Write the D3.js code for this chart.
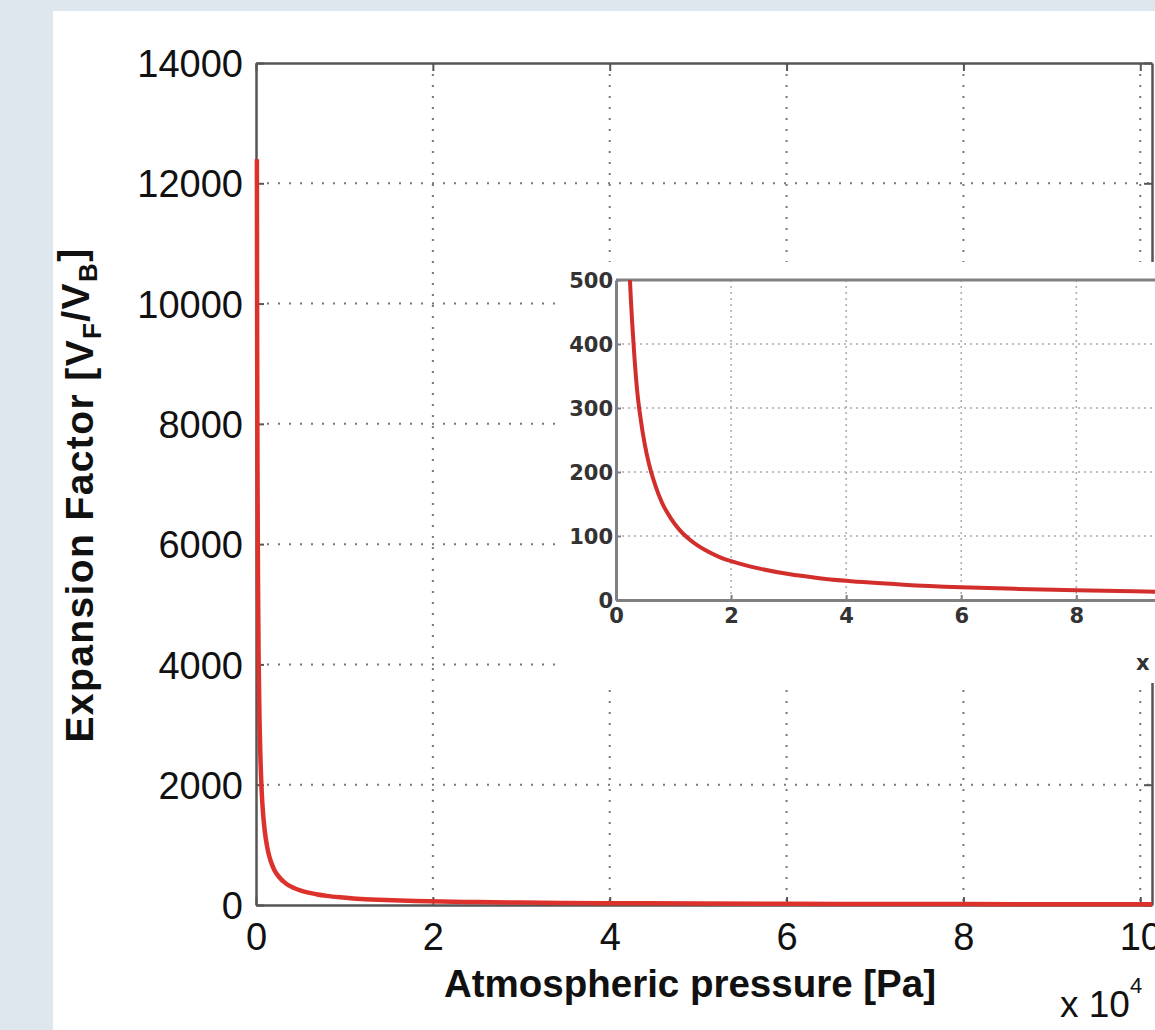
<!DOCTYPE html>
<html>
<head>
<meta charset="utf-8">
<script src="https://cdn.jsdelivr.net/npm/d3@7"></script>
<style>
  html, body { margin: 0; padding: 0; background: #dee6ee; overflow: hidden; }
  svg { display: block; }
</style>
</head>
<body>
<div id="chart"></div>
<script>
// Data (pressure in Pa, expansion factor V_F/V_B)
const pressure = [100, 130, 170, 220, 300, 400, 500, 650, 800, 1000, 1250, 1500, 1800, 2100,
    2400, 2800, 3200, 3700, 4300, 5000, 5800, 6800, 8000, 9500, 11000, 13000, 15500, 18000,
    21000, 25000, 30000, 35000, 40000, 50000, 60000, 70000, 80000, 90000, 101325];
const factor = [12400, 9400, 7200, 5500, 4050, 3050, 2450, 1870, 1520, 1220, 975, 810, 675, 575,
    505, 435, 380, 325, 282, 243, 210, 180, 152, 128, 110, 93, 78, 67,
    58, 49, 40.5, 34.5, 30, 24, 20, 17.3, 15.2, 13.5, 12];

const xTicks = [0, 20000, 40000, 60000, 80000, 100000];
const yTicksMain = [0, 2000, 4000, 6000, 8000, 10000, 12000, 14000];
const yTicksInset = [0, 100, 200, 300, 400, 500];

const xTitle = 'Atmospheric pressure [Pa]';
const pMax = 101325;

const W = 1155, H = 1030;
const curveColor = '#dc322b';

const svg = d3.select('#chart').append('svg')
    .attr('width', W)
    .attr('height', H);

// page backdrop + white panel
svg.append('rect').attr('width', W).attr('height', H).attr('fill', '#dee6ee');
svg.append('rect').attr('x', 53).attr('y', 11).attr('width', W - 53).attr('height', H - 11).attr('fill', '#fff');

const points = pressure.map((p, i) => ({ p, v: factor[i] }));

// ---------- main plot ----------
const M = { left: 256, right: 1152, top: 63, bottom: 905 };
const x = d3.scaleLinear().domain([0, pMax]).range([M.left, M.right]);
const y = d3.scaleLinear().domain([0, 14000]).range([M.bottom, M.top]);

const main = svg.append('g').attr('class', 'main');

// dotted grid
main.selectAll('.vgrid').data(xTicks.filter(d => d > 0)).enter().append('line')
    .attr('x1', d => x(d)).attr('x2', d => x(d))
    .attr('y1', M.top).attr('y2', M.bottom)
    .attr('stroke', '#777').attr('stroke-width', 2).attr('stroke-dasharray', '2,9');
main.selectAll('.hgrid').data(yTicksMain.filter(d => d > 0 && d < 14000)).enter().append('line')
    .attr('x1', M.left).attr('x2', M.right)
    .attr('y1', d => y(d)).attr('y2', d => y(d))
    .attr('stroke', '#777').attr('stroke-width', 2).attr('stroke-dasharray', '2,9');

// axes (MATLAB style, ticks pointing inward)
const mainX = main.append('g').attr('transform', `translate(0,${M.bottom})`)
    .call(d3.axisBottom(x).tickValues(xTicks).tickFormat(d => d / 1e4).tickSizeInner(-8).tickSizeOuter(0).tickPadding(18));
const mainY = main.append('g').attr('transform', `translate(${M.left},0)`)
    .call(d3.axisLeft(y).tickValues(yTicksMain).tickFormat(d3.format('d')).tickSizeInner(-8).tickSizeOuter(0).tickPadding(13));
[mainX, mainY].forEach(a => {
    a.select('.domain').attr('stroke', '#555').attr('stroke-width', 2.5);
    a.selectAll('.tick line').attr('stroke', '#555').attr('stroke-width', 2);
    a.selectAll('text').attr('fill', '#111').style('font-family', '"Liberation Sans", Arial, sans-serif').style('font-size', '38px');
});
mainY.selectAll('text').attr('dy', '0.36em');
// top and right box edges with mirrored ticks
main.append('g').attr('transform', `translate(0,${M.top})`)
    .call(d3.axisTop(x).tickValues(xTicks).tickFormat('').tickSizeInner(-8).tickSizeOuter(0))
    .call(a => { a.select('.domain').attr('stroke', '#555').attr('stroke-width', 2.5); a.selectAll('.tick line').attr('stroke', '#555').attr('stroke-width', 2); });
main.append('g').attr('transform', `translate(${M.right},0)`)
    .call(d3.axisRight(y).tickValues(yTicksMain).tickFormat('').tickSizeInner(-8).tickSizeOuter(0))
    .call(a => { a.select('.domain').attr('stroke', '#555').attr('stroke-width', 2.5); a.selectAll('.tick line').attr('stroke', '#555').attr('stroke-width', 2); });

const line = d3.line().x(d => x(d.p)).y(d => y(d.v)).curve(d3.curveMonotoneX);
main.append('path').datum(points)
    .attr('d', line)
    .attr('fill', 'none')
    .attr('stroke', curveColor)
    .attr('stroke-width', 4.5)
    .attr('stroke-linejoin', 'round');

// axis titles
main.append('text')
    .attr('x', 690).attr('y', 997)
    .attr('text-anchor', 'middle')
    .style('font-family', '"Liberation Sans", Arial, sans-serif')
    .style('font-size', '38.5px').style('font-weight', 'bold')
    .attr('fill', '#111')
    .text(xTitle);

const yt = main.append('text')
    .attr('transform', 'translate(93,495) rotate(-90)')
    .attr('text-anchor', 'middle')
    .style('font-family', '"Liberation Sans", Arial, sans-serif')
    .style('font-size', '39px').style('font-weight', 'bold')
    .style('letter-spacing', '1.4px')
    .attr('fill', '#111');
yt.append('tspan').text('Expansion Factor [V');
yt.append('tspan').attr('dy', '0.3em').style('font-size', '26px').text('F');
yt.append('tspan').attr('dy', '-0.3em').text('/V');
yt.append('tspan').attr('dy', '0.3em').style('font-size', '26px').text('B');
yt.append('tspan').attr('dy', '-0.3em').text(']');

const mult = main.append('text')
    .attr('x', 1060).attr('y', 1017)
    .style('font-family', '"Liberation Sans", Arial, sans-serif')
    .style('font-size', '37px')
    .attr('fill', '#111');
mult.append('tspan').text('x 10');
mult.append('tspan').attr('dy', -24).style('font-size', '22px').text('4');

// ---------- inset ----------
const I = { left: 616, right: 1199, top: 280, bottom: 600 };
const xi = d3.scaleLinear().domain([0, pMax]).range([I.left, I.right]);
const yi = d3.scaleLinear().domain([0, 500]).range([I.bottom, I.top]);

const inset = svg.append('g').attr('class', 'inset');
inset.append('rect')
    .attr('x', 562).attr('y', 262).attr('width', 700).attr('height', 421)
    .attr('fill', '#fff');

inset.selectAll('.vgrid').data(xTicks.filter(d => d > 0)).enter().append('line')
    .attr('x1', d => xi(d)).attr('x2', d => xi(d))
    .attr('y1', I.top).attr('y2', I.bottom)
    .attr('stroke', '#aaa').attr('stroke-width', 1.5).attr('stroke-dasharray', '2,4');
inset.selectAll('.hgrid').data(yTicksInset.filter(d => d > 0 && d < 500)).enter().append('line')
    .attr('x1', I.left).attr('x2', I.right)
    .attr('y1', d => yi(d)).attr('y2', d => yi(d))
    .attr('stroke', '#aaa').attr('stroke-width', 1.5).attr('stroke-dasharray', '2,4');

const insX = inset.append('g').attr('transform', `translate(0,${I.bottom})`)
    .call(d3.axisBottom(xi).tickValues(xTicks).tickFormat(d => d / 1e4).tickSizeInner(-5).tickSizeOuter(0).tickPadding(8));
const insY = inset.append('g').attr('transform', `translate(${I.left},0)`)
    .call(d3.axisLeft(yi).tickValues(yTicksInset).tickSizeInner(-5).tickSizeOuter(0).tickPadding(3));
[insX, insY].forEach(a => {
    a.select('.domain').attr('stroke', '#808080').attr('stroke-width', 3);
    a.selectAll('.tick line').attr('stroke', '#808080').attr('stroke-width', 2);
    a.selectAll('text').attr('fill', '#333').style('font-family', '"DejaVu Sans", sans-serif')
        .style('font-size', '21px').style('font-weight', 'bold');
});
insY.selectAll('text').attr('dy', '0.36em');
inset.append('line')
    .attr('x1', I.left).attr('x2', I.right).attr('y1', I.top).attr('y2', I.top)
    .attr('stroke', '#808080').attr('stroke-width', 3);

svg.append('defs').append('clipPath').attr('id', 'inset-clip')
    .append('rect').attr('x', I.left).attr('y', I.top).attr('width', I.right - I.left).attr('height', I.bottom - I.top);

const lineI = d3.line().x(d => xi(d.p)).y(d => yi(d.v)).curve(d3.curveMonotoneX);
inset.append('path').datum(points)
    .attr('d', lineI)
    .attr('clip-path', 'url(#inset-clip)')
    .attr('fill', 'none')
    .attr('stroke', '#d22f2c')
    .attr('stroke-width', 4)
    .attr('stroke-linejoin', 'round');

const multI = inset.append('text')
    .attr('x', 1136).attr('y', 670)
    .style('font-family', '"DejaVu Sans", sans-serif')
    .style('font-size', '21px').style('font-weight', 'bold')
    .attr('fill', '#333');
multI.append('tspan').text('x 10');
multI.append('tspan').attr('dy', -12).style('font-size', '13px').text('4');
</script>
</body>
</html>
